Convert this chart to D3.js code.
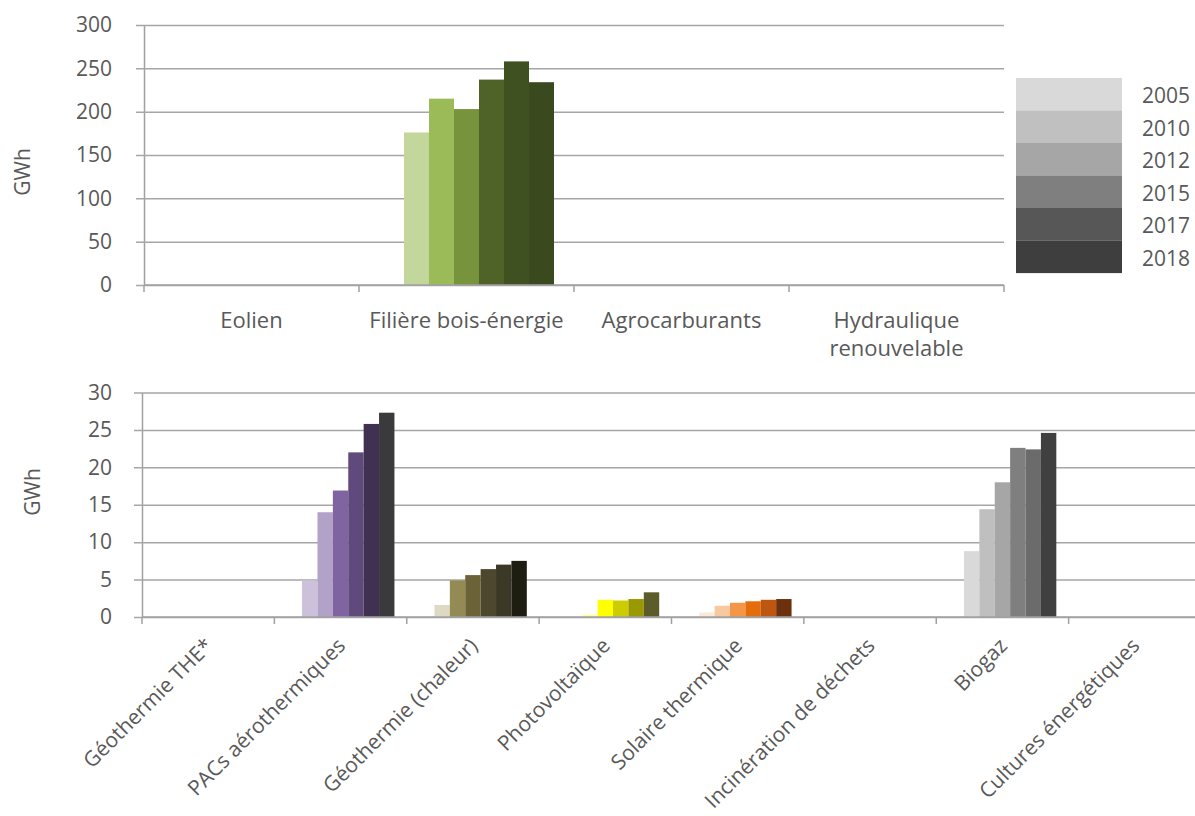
<!DOCTYPE html>
<html>
<head>
<meta charset="utf-8">
<script src="https://cdn.jsdelivr.net/npm/d3@7"></script>
<style>
  body { margin: 0; background: #fff; }
  svg text { font-family: "Open Sans", sans-serif; fill: #595959; }
</style>
</head>
<body>
<svg id="chart" width="1195" height="816"></svg>
<script>
/************************************ Data *******************************/
var years = ["2005", "2010", "2012", "2015", "2017", "2018"];

var topCats = ["Eolien", "Filière bois-énergie", "Agrocarburants", "Hydraulique renouvelable"];
var topValues = [
  [0, 0, 0, 0, 0, 0],
  [176, 215, 203, 237, 258, 234],
  [0, 0, 0, 0, 0, 0],
  [0, 0, 0, 0, 0, 0]
];
var topTicks = [0, 50, 100, 150, 200, 250, 300];

var bottomCats = ["Géothermie THE*", "PACs aérothermiques", "Géothermie (chaleur)", "Photovoltaïque",
  "Solaire thermique", "Incinération de déchets", "Biogaz", "Cultures énergétiques"];
var bottomValues = [
  [0, 0, 0, 0, 0, 0],
  [4.9, 14.0, 16.9, 22.0, 25.8, 27.3],
  [1.6, 4.9, 5.6, 6.4, 7.0, 7.5],
  [0, 0.3, 2.3, 2.2, 2.4, 3.3],
  [0.6, 1.5, 1.9, 2.1, 2.3, 2.4],
  [0, 0, 0, 0, 0, 0],
  [8.8, 14.4, 18.0, 22.6, 22.4, 24.6],
  [0, 0, 0, 0, 0, 0]
];
var bottomTicks = [0, 5, 10, 15, 20, 25, 30];

/************************************ Colours *******************************/
var grays = ["#d9d9d9", "#c0c0c0", "#a6a6a6", "#7f7f7f", "#575757", "#3e3e3e"];
var topColors = [
  grays,
  ["#c3d69b", "#9bbb59", "#77933c", "#4f6228", "#3f5121", "#3a4a1e"],
  grays,
  grays
];
var bottomColors = [
  grays,
  ["#ccc0da", "#b3a2c7", "#8064a2", "#604a7b", "#403152", "#3a3a3c"],
  ["#ddd9c3", "#948a54", "#6b6337", "#4c472d", "#3b3826", "#1e1d12"],
  ["#ffffb3", "#ffff99", "#ffff00", "#cccc00", "#999900", "#5c5c2a"],
  ["#fde9d9", "#f8c9a0", "#f49548", "#e46c0a", "#bd5610", "#6c300c"],
  grays,
  ["#d9d9d9", "#bfbfbf", "#a6a6a6", "#7f7f7f", "#6b6b6b", "#404040"],
  grays
];

var FS = "21px";
var svg = d3.select("#chart");

/************************************ Panel *******************************/
// one clustered bar panel, seven slots per group (first slot stays empty)
function panel(opt) {
  var g = svg.append("g");
  var w = opt.x1 - opt.x0;

  var x0 = d3.scaleBand().domain(opt.cats).range([opt.x0, opt.x1]).padding(0);
  var slots = ["_"].concat(years);
  var x1 = d3.scaleBand().domain(slots)
    .range([x0.bandwidth() * 0.093, x0.bandwidth() * 0.907]).padding(0);
  var y = d3.scaleLinear().domain([0, opt.max]).range([opt.yBottom, opt.yTop]);

  // y axis + gridlines
  var ya = g.append("g").attr("transform", "translate(" + opt.x0 + ",0)")
    .call(d3.axisLeft(y).tickValues(opt.ticks).tickSizeOuter(0).tickPadding(opt.pad));
  ya.select(".domain").attr("stroke", "#a0a0a0").attr("stroke-width", 1.5);
  ya.selectAll(".tick line").attr("x1", -8).attr("x2", w)
    .attr("stroke", "#a6a6a6").attr("stroke-width", 1.5);
  ya.selectAll(".tick text").style("font-size", FS).attr("fill", "#595959");

  // bars
  opt.cats.forEach(function(c, i) {
    g.append("g").attr("transform", "translate(" + x0(c) + ",0)")
      .selectAll("rect")
      .data(opt.values[i].map(function(v, j) { return {year: years[j], v: v, col: opt.colors[i][j]}; }))
      .enter().append("rect")
        .attr("x", function(d) { return x1(d.year); })
        .attr("y", function(d) { return y(d.v); })
        .attr("width", x1.bandwidth())
        .attr("height", function(d) { return opt.yBottom - y(d.v); })
        .attr("fill", function(d) { return d.col; });
  });

  // x axis line and category ticks
  g.append("line").attr("x1", opt.x0).attr("x2", opt.x1)
    .attr("y1", opt.yBottom).attr("y2", opt.yBottom)
    .attr("stroke", "#a0a0a0").attr("stroke-width", 1.5);
  g.selectAll(".ctick").data(d3.range(opt.cats.length + 1)).enter().append("line")
    .attr("x1", function(i) { return opt.x0 + i * x0.step(); })
    .attr("x2", function(i) { return opt.x0 + i * x0.step(); })
    .attr("y1", opt.yBottom).attr("y2", opt.yBottom + 7)
    .attr("stroke", "#a0a0a0").attr("stroke-width", 1.5);

  // y title
  g.append("text")
    .attr("transform", "translate(" + opt.titleX + "," + opt.titleY + ") rotate(-90)")
    .attr("text-anchor", "middle").style("font-size", FS).text("GWh");

  return {x0: x0, y: y};
}

/************************************ Top chart *******************************/
var topChart = panel({cats: topCats, values: topValues, colors: topColors, ticks: topTicks, max: 300,
  x0: 144, x1: 1004, yTop: 25, yBottom: 285, titleX: 30, titleY: 172, pad: 26});

topCats.forEach(function(c) {
  var cx = topChart.x0(c) + topChart.x0.bandwidth() / 2;
  var words = c === "Hydraulique renouvelable" ? ["Hydraulique", "renouvelable"] : [c];
  words.forEach(function(t, k) {
    svg.append("text").attr("x", cx).attr("y", 328 + k * 28)
      .attr("text-anchor", "middle").style("font-size", "22px").text(t);
  });
});

/************************************ Legend *******************************/
var leg = svg.append("g").attr("transform", "translate(1016,78)");
years.forEach(function(yr, i) {
  leg.append("rect").attr("x", 0).attr("y", i * 32.5).attr("width", 106).attr("height", 32.6)
    .attr("fill", grays[i]);
  leg.append("text").attr("x", 126).attr("y", i * 32.5 + 18).attr("dy", "0.35em")
    .style("font-size", FS).text(yr);
});

/************************************ Bottom chart *******************************/
var botChart = panel({cats: bottomCats, values: bottomValues, colors: bottomColors, ticks: bottomTicks, max: 30,
  x0: 142, x1: 1201, yTop: 392.5, yBottom: 617, titleX: 40, titleY: 492, pad: 24});

bottomCats.forEach(function(c) {
  var cx = botChart.x0(c) + botChart.x0.bandwidth() / 2;
  svg.append("text")
    .attr("transform", "translate(" + (cx + 6) + ",647) rotate(-45)")
    .attr("text-anchor", "end").style("font-size", FS).text(c);
});
</script>
</body>
</html>
